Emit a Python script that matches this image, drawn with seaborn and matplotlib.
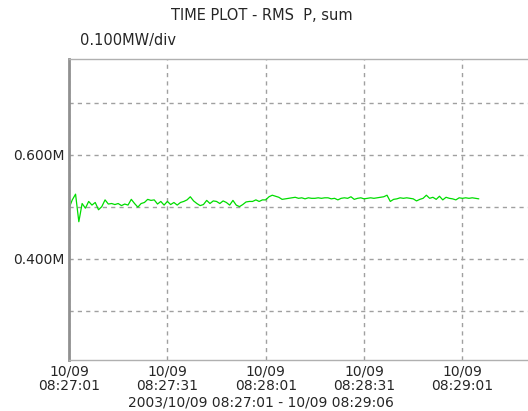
import pandas as pd
import numpy as np
import matplotlib
matplotlib.use("Agg")
import matplotlib.pyplot as plt
import seaborn as sns

# RMS P, sum in MW, one sample per second from 2003/10/09 08:27:01
power_mw = [
    0.497, 0.513, 0.524, 0.471, 0.506, 0.497, 0.510, 0.503, 0.508, 0.494,
    0.500, 0.513, 0.505, 0.506, 0.504, 0.506, 0.502, 0.505, 0.503, 0.514,
    0.506, 0.499, 0.506, 0.508, 0.514, 0.512, 0.513, 0.505, 0.510, 0.503,
    0.510, 0.504, 0.508, 0.503, 0.508, 0.510, 0.513, 0.519, 0.511, 0.506,
    0.502, 0.504, 0.512, 0.506, 0.511, 0.510, 0.506, 0.511, 0.508, 0.503,
    0.512, 0.503, 0.500, 0.504, 0.509, 0.510, 0.510, 0.513, 0.510, 0.513,
    0.513, 0.519, 0.522, 0.520, 0.518, 0.514, 0.515, 0.516, 0.517, 0.518,
    0.516, 0.517, 0.515, 0.517, 0.516, 0.516, 0.517, 0.516, 0.517, 0.517,
    0.515, 0.516, 0.513, 0.516, 0.517, 0.516, 0.519, 0.514, 0.516, 0.517,
    0.515, 0.516, 0.517, 0.516, 0.517, 0.518, 0.519, 0.522, 0.510, 0.514,
    0.515, 0.517, 0.516, 0.517, 0.516, 0.515, 0.511, 0.514, 0.516, 0.522,
    0.516, 0.518, 0.514, 0.520, 0.513, 0.518, 0.516, 0.515, 0.513, 0.517,
    0.516, 0.517, 0.516, 0.517, 0.516, 0.515,
]
x_ticks_sec = [0, 30, 60, 90, 120]
x_tick_labels = ["10/09\n08:27:01", "10/09\n08:27:31", "10/09\n08:28:01",
                 "10/09\n08:28:31", "10/09\n08:29:01"]
y_grid = [0.3, 0.4, 0.5, 0.6, 0.7]
y_tick_labels = ["", "0.400M", "", "0.600M", ""]

df = pd.DataFrame({"sec": np.arange(len(power_mw)), "power": power_mw})

sns.set_style("white")
plt.rcParams["font.family"] = ["DejaVu Sans"]

fig = plt.figure(figsize=(5.28, 4.11), dpi=100)
ax = fig.add_axes([69 / 528, 1 - 360 / 411, 1 - 69 / 528, 301 / 411])

sns.lineplot(data=df, x="sec", y="power", color="#00dd00", linewidth=0.9, ax=ax)

ax.set_xlim(0, 140)
ax.set_ylim(0.205, 0.784)
ax.set_xticks(x_ticks_sec)
ax.set_xticklabels(x_tick_labels, fontsize=10, linespacing=1.05)
ax.set_yticks(y_grid)
ax.set_yticklabels(y_tick_labels, fontsize=10)
ax.tick_params(length=0, pad=3)
ax.set_xlabel("")
ax.set_ylabel("")
ax.grid(True, color="#a0a0a0", linestyle=(0, (3, 3)), linewidth=1)

for side in ["top", "bottom"]:
    ax.spines[side].set_color("#b0b0b0")
    ax.spines[side].set_linewidth(1)
ax.spines["right"].set_visible(False)
ax.spines["left"].set_color("#909090")
ax.spines["left"].set_linewidth(2)
ax.spines["left"].set_linestyle((0, (2, 1)))

fig.text(262 / 528, 1 - 16 / 411, "TIME PLOT - RMS  P, sum", ha="center", va="center", fontsize=10.5)
fig.text(80 / 528, 1 - 40 / 411, "0.100MW/div", ha="left", va="center", fontsize=10.5)
fig.text(261 / 528, 1 - 402 / 411, "2003/10/09 08:27:01 - 10/09 08:29:06", ha="center", va="center", fontsize=10)

fig.savefig("out.png", dpi=100)
